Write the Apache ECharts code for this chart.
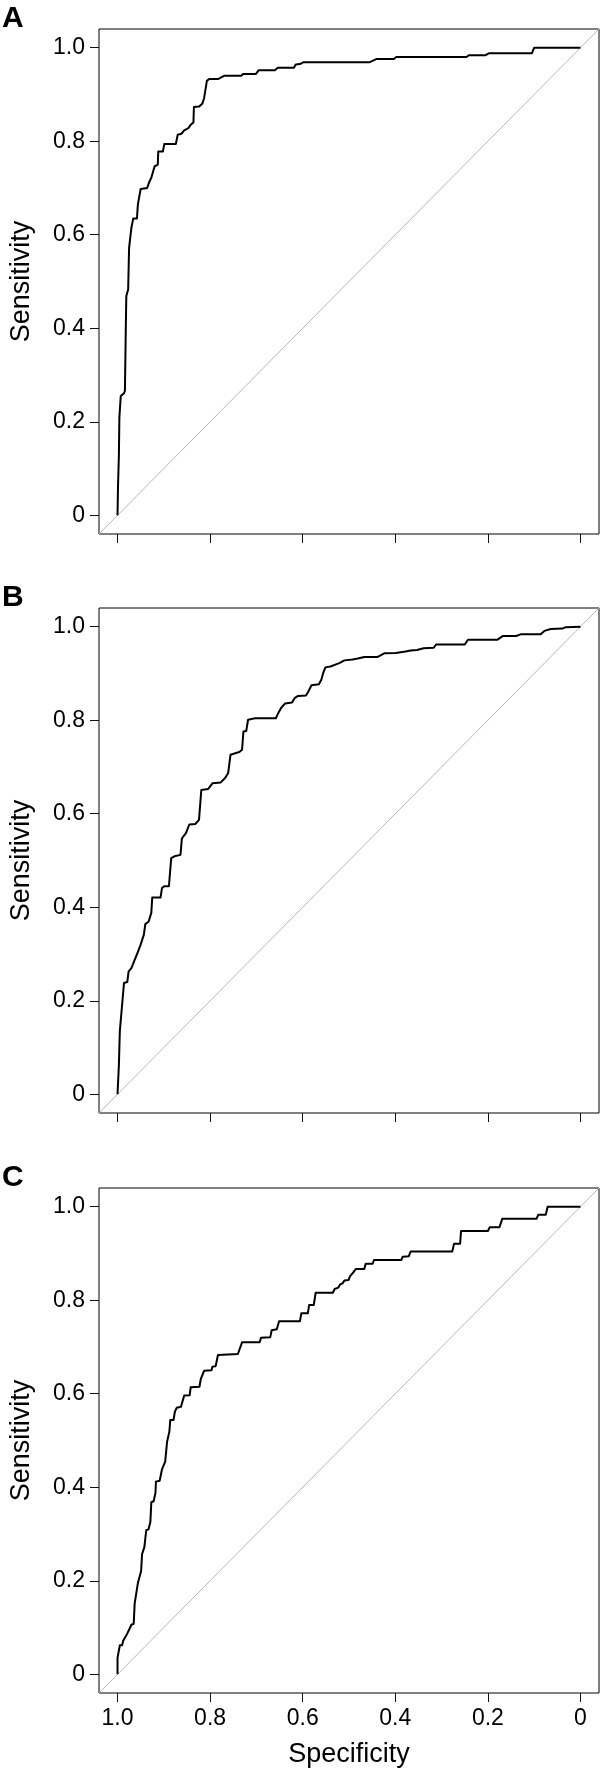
<!DOCTYPE html>
<html>
<head>
<meta charset="utf-8">
<script src="https://cdn.jsdelivr.net/npm/echarts@6.0.0/dist/echarts.min.js"></script>
<style>
  html, body { margin: 0; padding: 0; background: #fff; }
  #chart { width: 600px; height: 1774px; }
</style>
</head>
<body>
<div id="chart"></div>
<script>
// ROC curves: specificity (x, reversed) vs sensitivity (y)
const panelLabels = ['A', 'B', 'C']
const tickValues = [0, 0.2, 0.4, 0.6, 0.8, 1.0]

const specA = [1.000, 0.999, 0.997, 0.996, 0.993, 0.986, 0.984, 0.982, 0.981, 0.977, 0.975, 0.970, 0.966, 0.958, 0.956, 0.950, 0.936, 0.931, 0.927, 0.923, 0.920, 0.913, 0.912, 0.902, 0.899, 0.874, 0.870, 0.862, 0.856, 0.847, 0.842, 0.836, 0.835, 0.824, 0.817, 0.813, 0.807, 0.802, 0.783, 0.770, 0.733, 0.728, 0.701, 0.695, 0.660, 0.654, 0.619, 0.615, 0.606, 0.598, 0.455, 0.440, 0.403, 0.398, 0.246, 0.241, 0.205, 0.198, 0.105, 0.100, 0.000]
const sensA = [0.000, 0.059, 0.130, 0.209, 0.255, 0.261, 0.266, 0.408, 0.469, 0.483, 0.572, 0.615, 0.635, 0.635, 0.665, 0.698, 0.700, 0.714, 0.722, 0.725, 0.746, 0.750, 0.778, 0.778, 0.794, 0.794, 0.814, 0.816, 0.823, 0.828, 0.835, 0.840, 0.873, 0.874, 0.880, 0.892, 0.929, 0.933, 0.933, 0.940, 0.940, 0.944, 0.944, 0.952, 0.952, 0.957, 0.957, 0.964, 0.965, 0.969, 0.969, 0.976, 0.976, 0.980, 0.980, 0.984, 0.984, 0.988, 0.988, 1.000, 1.000]

const specB = [1.000, 0.997, 0.995, 0.991, 0.986, 0.979, 0.976, 0.970, 0.964, 0.957, 0.950, 0.943, 0.940, 0.933, 0.927, 0.925, 0.907, 0.904, 0.899, 0.889, 0.884, 0.877, 0.864, 0.861, 0.852, 0.845, 0.832, 0.824, 0.819, 0.804, 0.795, 0.777, 0.768, 0.761, 0.756, 0.752, 0.737, 0.731, 0.728, 0.722, 0.718, 0.703, 0.658, 0.653, 0.646, 0.638, 0.623, 0.617, 0.610, 0.593, 0.588, 0.581, 0.565, 0.560, 0.556, 0.551, 0.540, 0.521, 0.510, 0.492, 0.481, 0.467, 0.439, 0.424, 0.399, 0.378, 0.367, 0.353, 0.339, 0.317, 0.312, 0.250, 0.243, 0.180, 0.168, 0.139, 0.128, 0.086, 0.078, 0.064, 0.039, 0.032, 0.000]
const sensB = [0.000, 0.064, 0.135, 0.181, 0.238, 0.240, 0.263, 0.270, 0.285, 0.302, 0.320, 0.342, 0.364, 0.369, 0.388, 0.421, 0.421, 0.441, 0.445, 0.445, 0.505, 0.509, 0.512, 0.547, 0.559, 0.577, 0.578, 0.587, 0.651, 0.653, 0.665, 0.667, 0.676, 0.687, 0.726, 0.730, 0.732, 0.737, 0.776, 0.777, 0.801, 0.804, 0.804, 0.815, 0.827, 0.836, 0.838, 0.848, 0.852, 0.853, 0.861, 0.875, 0.877, 0.886, 0.900, 0.913, 0.915, 0.922, 0.928, 0.930, 0.932, 0.935, 0.935, 0.943, 0.944, 0.947, 0.949, 0.950, 0.954, 0.955, 0.962, 0.962, 0.972, 0.972, 0.980, 0.980, 0.984, 0.984, 0.991, 0.995, 0.996, 0.999, 1.000]

const specC = [1.000, 1.000, 0.996, 0.995, 0.990, 0.988, 0.984, 0.979, 0.975, 0.970, 0.965, 0.963, 0.959, 0.956, 0.949, 0.947, 0.942, 0.938, 0.933, 0.929, 0.927, 0.922, 0.918, 0.917, 0.909, 0.904, 0.900, 0.897, 0.893, 0.888, 0.886, 0.879, 0.876, 0.872, 0.863, 0.856, 0.844, 0.842, 0.823, 0.820, 0.813, 0.797, 0.795, 0.788, 0.783, 0.740, 0.731, 0.693, 0.690, 0.670, 0.667, 0.656, 0.651, 0.606, 0.603, 0.589, 0.586, 0.576, 0.572, 0.535, 0.531, 0.523, 0.519, 0.514, 0.510, 0.501, 0.498, 0.492, 0.485, 0.467, 0.464, 0.449, 0.446, 0.387, 0.384, 0.371, 0.367, 0.277, 0.273, 0.260, 0.258, 0.200, 0.196, 0.175, 0.169, 0.095, 0.091, 0.075, 0.071, 0.000]
const sensC = [0.000, 0.035, 0.035, 0.062, 0.062, 0.071, 0.071, 0.087, 0.090, 0.106, 0.108, 0.151, 0.155, 0.195, 0.221, 0.257, 0.272, 0.308, 0.310, 0.326, 0.368, 0.370, 0.388, 0.412, 0.414, 0.438, 0.439, 0.455, 0.497, 0.519, 0.544, 0.544, 0.562, 0.570, 0.572, 0.596, 0.597, 0.614, 0.615, 0.632, 0.649, 0.650, 0.658, 0.659, 0.683, 0.685, 0.710, 0.710, 0.720, 0.721, 0.736, 0.738, 0.755, 0.755, 0.772, 0.772, 0.790, 0.790, 0.816, 0.816, 0.824, 0.827, 0.834, 0.836, 0.842, 0.843, 0.851, 0.858, 0.867, 0.867, 0.878, 0.878, 0.886, 0.886, 0.893, 0.894, 0.904, 0.904, 0.921, 0.921, 0.948, 0.948, 0.956, 0.956, 0.974, 0.974, 0.983, 0.983, 1.000, 1.000]

// chance line, corner to corner of the plot box
const diagSpec = [1.04, -0.04]
const diagSens = [-0.04, 1.04]

const curves = [[specA, sensA], [specB, sensB], [specC, sensC]]
const panelTops = [29, 608, 1188]
const font = "'Liberation Sans', Arial, Helvetica, sans-serif"

function pairs(xs, ys) {
  return xs.map((x, i) => [x, ys[i]])
}

function tickFmt(v) {
  return v === 0 ? '0' : v.toFixed(1)
}

function buildOption() {
  const grid = []
  const xAxis = []
  const yAxis = []
  const series = []
  const graphic = []

  panelTops.forEach((top, i) => {
    const last = i === panelTops.length - 1
    grid.push({
      left: 94.5,
      top: top,
      width: 504.5,
      height: 505,
      show: true,
      borderColor: '#000',
      borderWidth: 1,
      backgroundColor: 'transparent'
    })
    xAxis.push({
      type: 'value',
      gridIndex: i,
      position: 'bottom',
      inverse: true,
      min: -0.04,
      max: 1.04,
      splitLine: { show: false },
      axisLine: { show: false, onZero: false },
      axisTick: {
        show: true,
        length: 9,
        customValues: tickValues,
        lineStyle: { color: '#111', width: 1 }
      },
      axisLabel: {
        show: last,
        customValues: tickValues,
        formatter: tickFmt,
        color: '#000',
        fontSize: 23,
        fontFamily: font,
        margin: 14
      },
      name: last ? 'Specificity' : '',
      nameLocation: 'middle',
      nameGap: 48,
      nameTextStyle: { color: '#000', fontSize: 27, fontFamily: font }
    })
    yAxis.push({
      type: 'value',
      gridIndex: i,
      position: 'left',
      min: -0.04,
      max: 1.04,
      splitLine: { show: false },
      axisLine: { show: false, onZero: false },
      axisTick: {
        show: true,
        length: 9,
        customValues: tickValues,
        lineStyle: { color: '#111', width: 1 }
      },
      axisLabel: {
        customValues: tickValues,
        formatter: tickFmt,
        color: '#000',
        fontSize: 23,
        fontFamily: font,
        margin: 14
      },
      name: 'Sensitivity',
      nameLocation: 'middle',
      nameRotate: 90,
      nameGap: 64,
      nameTextStyle: { color: '#000', fontSize: 27, fontFamily: font }
    })
    series.push({
      type: 'line',
      xAxisIndex: i,
      yAxisIndex: i,
      data: pairs(diagSpec, diagSens),
      showSymbol: false,
      silent: true,
      lineStyle: { color: '#b8b8b8', width: 1 }
    })
    series.push({
      type: 'line',
      xAxisIndex: i,
      yAxisIndex: i,
      data: pairs(curves[i][0], curves[i][1]),
      showSymbol: false,
      lineStyle: { color: '#000', width: 2, join: 'round' }
    })
    graphic.push({
      type: 'text',
      left: 2,
      top: top - 25,
      style: {
        text: panelLabels[i],
        font: 'bold 30px ' + font,
        fill: '#000'
      }
    })
  })

  return { animation: false, grid, xAxis, yAxis, series, graphic }
}

const chart = echarts.init(document.getElementById('chart'), null, { renderer: 'canvas' })
chart.setOption(buildOption())
</script>
</body>
</html>
